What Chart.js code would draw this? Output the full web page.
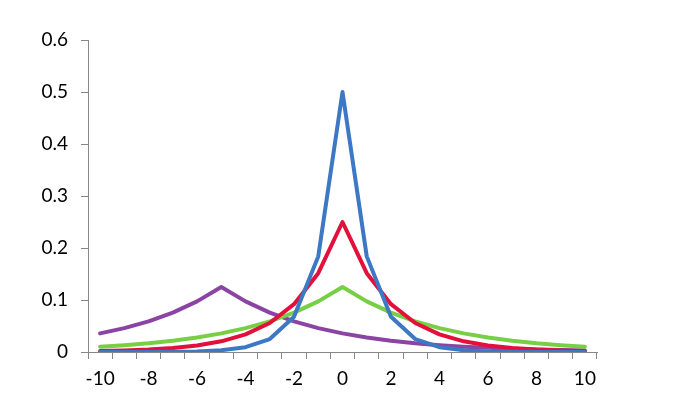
<!DOCTYPE html>
<html>
<head>
<meta charset="utf-8">
<script src="https://cdn.jsdelivr.net/npm/chart.js@4"></script>
<style>
  html, body { margin: 0; padding: 0; background: #fff; }
  #wrap { width: 685px; height: 395px; }
</style>
</head>
<body>
<div id="wrap"><canvas id="chart" width="685" height="395"></canvas></div>
<script>
// x categories
const xLabels = ['-10','-9','-8','-7','-6','-5','-4','-3','-2','-1','0','1','2','3','4','5','6','7','8','9','10'];
// series values
const blueVals   = [0.00002,0.00006,0.00017,0.00046,0.0012,0.0034,0.0092,0.0249,0.0677,0.1839,0.5,0.1839,0.0677,0.0249,0.0092,0.0034,0.0012,0.00046,0.00017,0.00006,0.00002];
const redVals    = [0.0017,0.0028,0.0046,0.0076,0.0124,0.0205,0.0338,0.0558,0.092,0.1516,0.25,0.1516,0.092,0.0558,0.0338,0.0205,0.0124,0.0076,0.0046,0.0028,0.0017];
const greenVals  = [0.0103,0.0132,0.0169,0.0217,0.0279,0.0358,0.046,0.059,0.0758,0.0973,0.125,0.0973,0.0758,0.059,0.046,0.0358,0.0279,0.0217,0.0169,0.0132,0.0103];
const purpleVals = [0.0358,0.046,0.059,0.0758,0.0973,0.125,0.0973,0.0758,0.059,0.046,0.0358,0.0279,0.0217,0.0169,0.0132,0.0103,0.008,0.0062,0.0049,0.0038,0.003];

const axisGray = '#868686';
const font = { family: 'Lato, "Open Sans", sans-serif', size: 19 };

const mkSet = (data, color) => ({
    data: data,
    borderColor: color,
    backgroundColor: color,
    borderWidth: 4,
    borderJoinStyle: 'round',
    borderCapStyle: 'round',
    pointRadius: 0,
    tension: 0,
    fill: false
});

new Chart(document.getElementById('chart'), {
    type: 'line',
    data: {
        labels: xLabels,
        datasets: [
            mkSet(blueVals, '#3C78C4'),
            mkSet(redVals, '#E3103C'),
            mkSet(greenVals, '#77CF45'),
            mkSet(purpleVals, '#8B44A4')
        ]
    },
    options: {
        responsive: false,
        animation: false,
        layout: { padding: { left: 0, right: 88, top: 40, bottom: 0 } },
        plugins: { legend: { display: false }, tooltip: { enabled: false } },
        scales: {
            x: {
                offset: true,
                grid: { offset: true, drawOnChartArea: false, color: axisGray, tickLength: 7 },
                border: { color: axisGray, width: 1 },
                ticks: {
                    autoSkip: false,
                    maxRotation: 0,
                    color: '#000',
                    font: font,
                    padding: 8,
                    callback: function(v, i) { return i % 2 === 0 ? xLabels[i] : ''; }
                },
                afterFit: function(scale) { scale.height = 43; }
            },
            y: {
                min: 0,
                max: 0.6,
                grid: { drawOnChartArea: false, color: axisGray, tickLength: 7 },
                border: { color: axisGray, width: 1 },
                ticks: {
                    stepSize: 0.1,
                    color: '#000',
                    font: font,
                    padding: 13,
                    callback: function(v) { return v === 0 ? '0' : v.toFixed(1); }
                },
                afterFit: function(scale) { scale.width = 88; }
            }
        }
    }
});
</script>
</body>
</html>
